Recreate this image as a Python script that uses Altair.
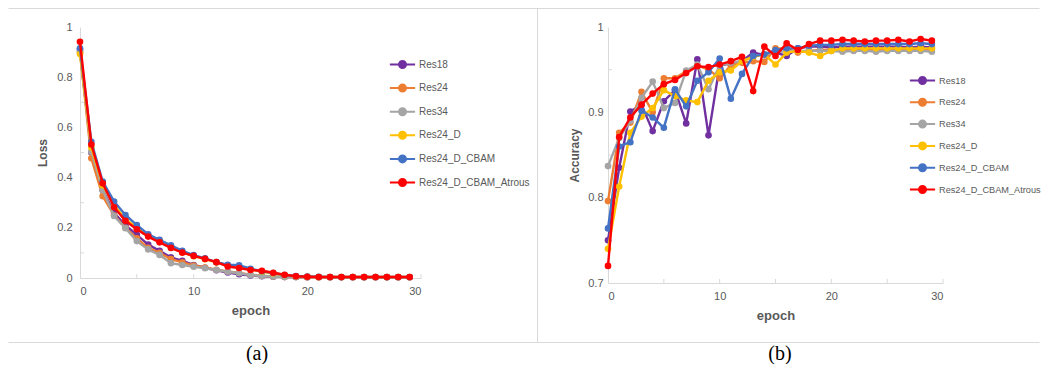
import altair as alt
import pandas as pd

epochs = list(range(30))
series_names = ["Res18", "Res24", "Res34", "Res24_D", "Res24_D_CBAM", "Res24_D_CBAM_Atrous"]
series_colors = ["#7030A0", "#ED7D31", "#A5A5A5", "#FFC000", "#4472C4", "#FF0000"]

# ---- Loss values (panel a) ----
loss_res18 = [0.910, 0.500, 0.350, 0.260, 0.210, 0.172, 0.133, 0.108, 0.082, 0.068, 0.052, 0.041, 0.031, 0.022, 0.015,
              0.010, 0.007, 0.005, 0.004, 0.004, 0.003, 0.003, 0.003, 0.003, 0.003, 0.003, 0.003, 0.003, 0.003, 0.003]
loss_res24 = [0.900, 0.477, 0.326, 0.250, 0.200, 0.158, 0.120, 0.100, 0.075, 0.062, 0.050, 0.042, 0.033, 0.026, 0.020,
              0.013, 0.009, 0.006, 0.004, 0.004, 0.003, 0.003, 0.003, 0.003, 0.003, 0.003, 0.003, 0.003, 0.003, 0.003]
loss_res34 = [0.900, 0.503, 0.350, 0.247, 0.198, 0.147, 0.114, 0.092, 0.059, 0.052, 0.045, 0.039, 0.032, 0.025, 0.019,
              0.012, 0.008, 0.006, 0.004, 0.004, 0.003, 0.003, 0.003, 0.003, 0.003, 0.003, 0.003, 0.003, 0.003, 0.003]
loss_res24_d = [0.892, 0.520, 0.370, 0.290, 0.235, 0.200, 0.168, 0.148, 0.122, 0.102, 0.087, 0.075, 0.062, 0.052, 0.043,
                0.035, 0.025, 0.018, 0.011, 0.007, 0.005, 0.004, 0.004, 0.004, 0.004, 0.004, 0.004, 0.004, 0.004, 0.004]
loss_res24_d_cbam = [0.915, 0.543, 0.384, 0.305, 0.251, 0.211, 0.174, 0.152, 0.130, 0.108, 0.091, 0.078, 0.063, 0.053, 0.051,
                     0.037, 0.027, 0.020, 0.012, 0.008, 0.006, 0.005, 0.004, 0.004, 0.004, 0.004, 0.004, 0.004, 0.004, 0.004]
loss_res24_d_cbam_atrous = [0.941, 0.532, 0.377, 0.282, 0.228, 0.194, 0.165, 0.142, 0.120, 0.101, 0.088, 0.076, 0.063, 0.046, 0.040,
                            0.032, 0.029, 0.021, 0.013, 0.007, 0.005, 0.004, 0.004, 0.004, 0.004, 0.004, 0.004, 0.004, 0.004, 0.004]

# ---- Accuracy values (panel b) ----
acc_res18 = [0.750, 0.835, 0.901, 0.909, 0.878, 0.913, 0.926, 0.887, 0.962, 0.873, 0.955, 0.957, 0.960, 0.970, 0.967,
             0.970, 0.966, 0.975, 0.977, 0.977, 0.976, 0.977, 0.977, 0.977, 0.977, 0.977, 0.977, 0.976, 0.977, 0.976]
acc_res24 = [0.796, 0.876, 0.888, 0.924, 0.900, 0.940, 0.940, 0.948, 0.955, 0.950, 0.940, 0.955, 0.958, 0.960, 0.959,
             0.975, 0.975, 0.970, 0.972, 0.973, 0.973, 0.973, 0.973, 0.973, 0.973, 0.973, 0.973, 0.973, 0.973, 0.973]
acc_res34 = [0.837, 0.870, 0.890, 0.917, 0.936, 0.905, 0.911, 0.949, 0.956, 0.927, 0.955, 0.958, 0.960, 0.965, 0.968,
             0.970, 0.972, 0.972, 0.972, 0.972, 0.972, 0.971, 0.972, 0.972, 0.971, 0.972, 0.972, 0.972, 0.972, 0.971]
acc_res24_d = [0.740, 0.813, 0.876, 0.895, 0.905, 0.926, 0.919, 0.914, 0.912, 0.937, 0.947, 0.949, 0.960, 0.965, 0.968,
               0.956, 0.970, 0.972, 0.970, 0.966, 0.972, 0.975, 0.975, 0.975, 0.975, 0.975, 0.975, 0.975, 0.975, 0.975]
acc_res24_d_cbam = [0.764, 0.860, 0.865, 0.902, 0.894, 0.882, 0.927, 0.907, 0.937, 0.947, 0.963, 0.916, 0.945, 0.966, 0.968,
                    0.973, 0.975, 0.975, 0.978, 0.979, 0.979, 0.980, 0.980, 0.980, 0.980, 0.980, 0.980, 0.980, 0.981, 0.980]
acc_res24_d_cbam_atrous = [0.720, 0.871, 0.894, 0.909, 0.922, 0.933, 0.938, 0.946, 0.954, 0.953, 0.956, 0.960, 0.965, 0.925, 0.977,
                           0.966, 0.981, 0.973, 0.980, 0.984, 0.984, 0.985, 0.984, 0.983, 0.984, 0.984, 0.985, 0.983, 0.986, 0.984]

loss_values = [loss_res18, loss_res24, loss_res34, loss_res24_d, loss_res24_d_cbam, loss_res24_d_cbam_atrous]
acc_values = [acc_res18, acc_res24, acc_res34, acc_res24_d, acc_res24_d_cbam, acc_res24_d_cbam_atrous]

# axis tick positions (inner tick marks)
x_minor_ticks = [5, 10, 15, 20, 25, 30]
loss_minor_ticks = [0.1, 0.3, 0.5, 0.7, 0.9]
acc_minor_ticks = [0.75, 0.85, 0.95]


def long_frame(values_list):
    rows = []
    for name, vals in zip(series_names, values_list):
        for e, v in zip(epochs, vals):
            rows.append({"epoch": e, "series": name, "value": v})
    return pd.DataFrame(rows)


loss_df = long_frame(loss_values)
acc_df = long_frame(acc_values)

FONT = "Liberation Sans"
TXT = "#595959"
AXC = "#D9D9D9"

SYMBOL = "M-1.2,0H1.2M0.333,0A0.333,0.333,0,1,1,-0.333,0A0.333,0.333,0,1,1,0.333,0Z"


def make_legend(lx, ly, rp, fs):
    return alt.Legend(
        title=None, orient="none", legendX=lx, legendY=ly, direction="vertical",
        symbolType=SYMBOL, symbolSize=441, symbolStrokeWidth=2, symbolOpacity=1,
        labelFont=FONT, labelFontSize=fs, labelColor=TXT, labelOffset=5,
        rowPadding=rp, padding=0,
    )


def panel(df, ytitle, ydomain, yvalues, yminor, legend, ylabpad, ytitlepad, height):
    xaxis = alt.Axis(values=[0, 10, 20, 30], format="d", title="epoch",
                     titleFont=FONT, titleFontSize=13, titleFontWeight="bold", titleColor=TXT,
                     labelFont=FONT, labelFontSize=11, labelColor=TXT,
                     domainColor=AXC, ticks=False, grid=False, labelPadding=7, titlePadding=8)
    yaxis = alt.Axis(values=yvalues, format=".1~f", title=ytitle,
                     titleFont=FONT, titleFontSize=12, titleFontWeight="bold", titleColor=TXT,
                     labelFont=FONT, labelFontSize=11, labelColor=TXT,
                     domainColor=AXC, ticks=False, grid=False, labelPadding=ylabpad, titlePadding=ytitlepad)
    xs = alt.Scale(domain=[0, 30], nice=False)
    ys = alt.Scale(domain=ydomain, nice=False, zero=False)
    layers = [
        alt.Chart(pd.DataFrame({"epoch": x_minor_ticks})).mark_rule(color=AXC, strokeWidth=1).encode(
            x=alt.X("epoch:Q", scale=xs, axis=xaxis),
            y=alt.value(height), y2=alt.value(height - 4)),
        alt.Chart(pd.DataFrame({"value": yminor})).mark_rule(color=AXC, strokeWidth=1).encode(
            y=alt.Y("value:Q", scale=ys, axis=yaxis),
            x=alt.value(0), x2=alt.value(4)),
    ]
    for name in series_names:
        sub = df[df["series"] == name]
        base = alt.Chart(sub).encode(
            x=alt.X("epoch:Q", scale=xs, axis=xaxis),
            y=alt.Y("value:Q", scale=ys, axis=yaxis),
            color=alt.Color("series:N", scale=alt.Scale(domain=series_names, range=series_colors),
                            legend=legend),
        )
        layers.append(base.mark_line(strokeWidth=2.4))
        layers.append(base.mark_circle(size=44, opacity=1))
    return layers


one = pd.DataFrame({"k": [0]})
deco = [
    alt.Chart(one).mark_rule(color=AXC, strokeWidth=1).encode(
        x=alt.value(-71.5), x2=alt.value(959.5), y=alt.value(-18.5)),
    alt.Chart(one).mark_rule(color=AXC, strokeWidth=1).encode(
        x=alt.value(-71.5), x2=alt.value(959.5), y=alt.value(315.5)),
    alt.Chart(one).mark_rule(color=AXC, strokeWidth=1).encode(
        x=alt.value(457.5), y=alt.value(-18.5), y2=alt.value(315.5)),
    alt.Chart(one).mark_text(font="Liberation Serif", fontSize=20, color="#000000", baseline="middle").encode(
        x=alt.value(177), y=alt.value(327), text=alt.value("(a)")),
    alt.Chart(one).mark_text(font="Liberation Serif", fontSize=20, color="#000000", baseline="middle").encode(
        x=alt.value(700), y=alt.value(327), text=alt.value("(b)")),
]

left = alt.layer(*(deco + panel(loss_df, "Loss", [0, 1], [0, 0.2, 0.4, 0.6, 0.8, 1], loss_minor_ticks,
                                make_legend(311, 26, 4.6, 10), 8, 7, 251))).properties(width=341, height=251)
right = alt.layer(*panel(acc_df, "Accuracy", [0.7, 1], [0.7, 0.8, 0.9, 1], acc_minor_ticks,
                         make_legend(303, 42, 2.8, 9.2), 5, 6, 256)).properties(width=335, height=256)

chart = alt.hconcat(left, right, spacing=187, bounds="flush").resolve_legend(
    color="independent").properties(padding=0, background="white").configure_view(stroke=None)

chart.save("out.html", embed_options={"renderer": "svg", "actions": False})
